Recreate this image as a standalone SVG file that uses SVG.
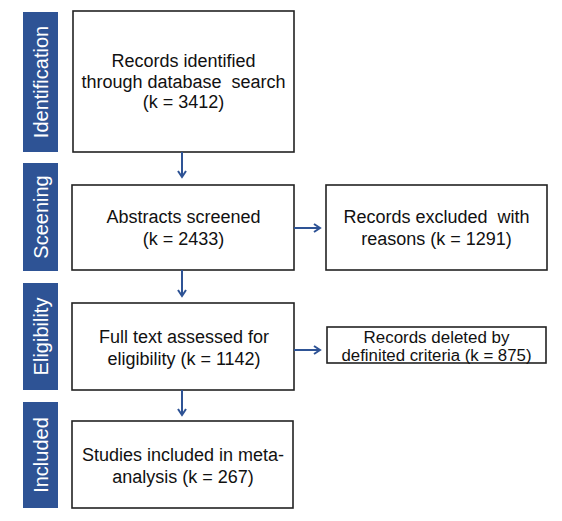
<svg xmlns="http://www.w3.org/2000/svg" width="562" height="521" viewBox="0 0 562 521">
<style>
.bar{fill:#2E5395;}
.bar-t{fill:#fff;font-family:"Liberation Sans",Arial,sans-serif;font-size:20px;text-anchor:middle;}
.box{fill:#fff;stroke:#222;stroke-width:1.6;}
.t{fill:#111;font-family:"Liberation Sans",Arial,sans-serif;font-size:18px;text-anchor:middle;}
.ts{font-size:16px;}
.arr{stroke:#2E5395;stroke-width:2;fill:none;marker-end:url(#ah);}
</style>
<defs>
<marker id="ah" markerUnits="userSpaceOnUse" markerWidth="12" markerHeight="12" refX="7" refY="5" orient="auto">
<path d="M1,1 L7,5 L1,9" fill="none" stroke="#2E5395" stroke-width="2"/>
</marker>
</defs>
<rect width="562" height="521" fill="#fff"/>
<g id="stage-identification">
<rect class="bar" x="23" y="12" width="35" height="140"/>
<text class="bar-t" transform="translate(48,82) rotate(-90)">Identification</text>
</g>
<g id="stage-screening">
<rect class="bar" x="23" y="163" width="35" height="108"/>
<text class="bar-t" transform="translate(48,217) rotate(-90)">Sceening</text>
</g>
<g id="stage-eligibility">
<rect class="bar" x="23" y="283" width="35" height="107"/>
<text class="bar-t" transform="translate(48,336.5) rotate(-90)">Eligibility</text>
</g>
<g id="stage-included">
<rect class="bar" x="23" y="402" width="35" height="106"/>
<text class="bar-t" transform="translate(48,455) rotate(-90)">Included</text>
</g>
<g id="node-identified">
<rect class="box" x="73" y="11" width="221" height="141"/>
<text class="t" x="183.5" y="67">Records identified</text>
<text class="t" x="183.5" y="87.5" xml:space="preserve">through database  search</text>
<text class="t" x="183.5" y="108">(k = 3412)</text>
</g>
<g id="node-screened">
<rect class="box" x="72" y="185" width="222" height="85"/>
<text class="t" x="183.5" y="223">Abstracts screened</text>
<text class="t" x="183.5" y="244.5">(k = 2433)</text>
</g>
<g id="node-excluded">
<rect class="box" x="326" y="185" width="221" height="85"/>
<text class="t" x="436.5" y="223" xml:space="preserve">Records excluded  with</text>
<text class="t" x="436.5" y="244.5">reasons (k = 1291)</text>
</g>
<g id="node-fulltext">
<rect class="box" x="72" y="303" width="222" height="87"/>
<text class="t" x="184" y="343">Full text assessed for</text>
<text class="t" x="184" y="364.5">eligibility (k = 1142)</text>
</g>
<g id="node-deleted">
<rect class="box" x="327" y="327" width="219" height="36"/>
<text class="t ts" x="436.5" y="342.5" textLength="146" lengthAdjust="spacingAndGlyphs">Records deleted by</text>
<text class="t ts" x="436.5" y="360.5" textLength="190" lengthAdjust="spacingAndGlyphs">definited criteria (k = 875)</text>
</g>
<g id="node-included">
<rect class="box" x="72" y="421" width="221" height="87"/>
<text class="t" x="183" y="461">Studies included in meta-</text>
<text class="t" x="183" y="482.5">analysis (k = 267)</text>
</g>
<g id="connectors">
<line class="arr" x1="182" y1="152" x2="182" y2="177"/>
<line class="arr" x1="182" y1="270" x2="182" y2="296"/>
<line class="arr" x1="182" y1="390" x2="182" y2="415"/>
<line class="arr" x1="294" y1="228" x2="320" y2="228"/>
<line class="arr" x1="294" y1="350" x2="320" y2="350"/>
</g>
</svg>
